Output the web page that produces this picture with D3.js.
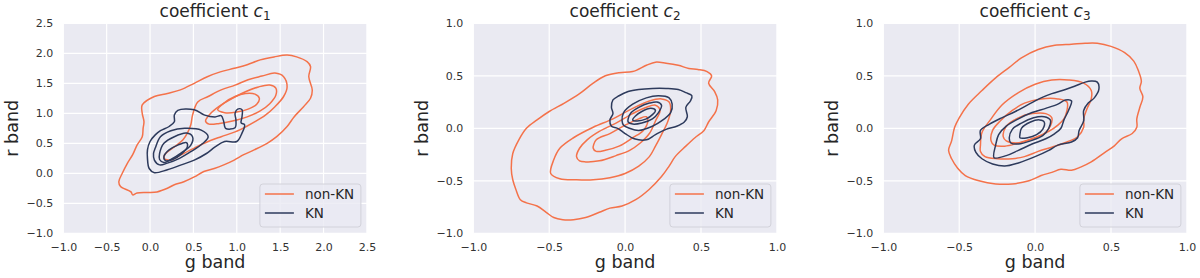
<!DOCTYPE html>
<html><head><meta charset="utf-8">
<script src="https://cdn.jsdelivr.net/npm/d3@7"></script>
<style>
body{margin:0;background:#fff}
svg{display:block}
text{font-family:"DejaVu Sans",sans-serif}
</style>
</head><body>
<svg id="chart" width="1200" height="278"></svg>
<script>
// ---------- data ----------
const subscripts = ["1", "2", "3"];
const seriesNames = ["non-KN", "KN"];
const ticksC1 = [-1, -0.5, 0, 0.5, 1, 1.5, 2, 2.5];
const ticksC23 = [-1, -0.5, 0, 0.5, 1];

// contour lines, [g band, r band] points, outer ring first
const c1NonKN = [
  [[-0.09,1.14],[0.05,1.28],[0.20,1.33],[0.35,1.39],[0.51,1.50],[0.66,1.61],[0.81,1.69],[0.97,1.75],[1.12,1.81],[1.27,1.89],[1.43,1.94],[1.58,1.97],[1.69,1.94],[1.81,1.86],[1.85,1.78],[1.83,1.61],[1.87,1.39],[1.85,1.25],[1.77,1.11],[1.66,0.94],[1.58,0.78],[1.46,0.61],[1.35,0.50],[1.20,0.39],[1.08,0.31],[0.97,0.22],[0.85,0.14],[0.74,0.08],[0.62,0.03],[0.51,-0.06],[0.39,-0.14],[0.28,-0.19],[0.20,-0.25],[0.08,-0.31],[-0.03,-0.32],[-0.15,-0.33],[-0.20,-0.36],[-0.22,-0.31],[-0.34,-0.22],[-0.36,-0.14],[-0.32,0.00],[-0.26,0.17],[-0.20,0.31],[-0.15,0.47],[-0.09,0.61],[-0.08,0.75],[-0.07,0.86],[-0.09,1.00]],
  [[0.49,0.97],[0.55,1.19],[0.67,1.28],[0.82,1.39],[0.98,1.47],[1.13,1.56],[1.29,1.62],[1.44,1.67],[1.54,1.61],[1.58,1.44],[1.54,1.28],[1.44,1.11],[1.33,0.97],[1.21,0.86],[1.11,0.78],[0.98,0.69],[0.82,0.61],[0.67,0.53],[0.51,0.42],[0.36,0.31],[0.24,0.22],[0.16,0.25],[0.18,0.33],[0.28,0.44],[0.38,0.56],[0.43,0.67],[0.47,0.81]],
  [[0.64,0.87],[0.70,1.00],[0.80,1.12],[0.95,1.25],[1.10,1.36],[1.25,1.44],[1.38,1.47],[1.45,1.42],[1.45,1.30],[1.38,1.16],[1.27,1.04],[1.12,0.94],[0.95,0.87],[0.80,0.83],[0.68,0.82]],
  [[0.78,1.06],[0.86,1.18],[0.98,1.28],[1.10,1.33],[1.21,1.32],[1.26,1.25],[1.23,1.15],[1.13,1.07],[1.00,1.02],[0.86,1.01]]
];
const c1KN = [
  [[0.28,0.97],[0.32,1.05],[0.51,1.06],[0.63,0.97],[0.75,0.94],[0.82,0.96],[0.85,0.86],[0.87,0.75],[0.98,0.76],[0.99,0.89],[0.98,1.00],[1.01,1.07],[1.06,1.06],[1.06,0.94],[1.05,0.84],[1.09,0.81],[1.06,0.67],[1.00,0.53],[0.86,0.53],[0.75,0.44],[0.65,0.33],[0.51,0.22],[0.36,0.14],[0.20,0.06],[0.05,0.01],[-0.01,0.08],[-0.03,0.25],[-0.03,0.39],[0.00,0.53],[0.06,0.64],[0.12,0.71],[0.22,0.78],[0.28,0.86]],
  [[0.06,0.42],[0.12,0.61],[0.24,0.71],[0.40,0.75],[0.59,0.72],[0.67,0.61],[0.61,0.50],[0.47,0.36],[0.34,0.25],[0.20,0.17],[0.11,0.14],[0.05,0.22],[0.04,0.33]],
  [[0.11,0.33],[0.16,0.50],[0.28,0.61],[0.42,0.67],[0.49,0.61],[0.47,0.47],[0.36,0.34],[0.24,0.23],[0.16,0.18],[0.11,0.23]],
  [[0.16,0.28],[0.22,0.39],[0.32,0.47],[0.42,0.51],[0.43,0.44],[0.36,0.32],[0.26,0.23],[0.18,0.21]]
];
const c2NonKN = [
  [[-0.65,0.00],[-0.58,0.08],[-0.50,0.16],[-0.40,0.24],[-0.30,0.33],[-0.21,0.43],[-0.13,0.50],[-0.04,0.53],[0.05,0.54],[0.14,0.60],[0.20,0.63],[0.27,0.62],[0.35,0.60],[0.42,0.57],[0.48,0.56],[0.54,0.54],[0.57,0.50],[0.55,0.43],[0.59,0.35],[0.61,0.27],[0.60,0.17],[0.55,0.06],[0.52,-0.02],[0.46,-0.09],[0.40,-0.17],[0.33,-0.27],[0.29,-0.36],[0.24,-0.46],[0.16,-0.58],[0.07,-0.68],[-0.02,-0.74],[-0.10,-0.76],[-0.17,-0.80],[-0.26,-0.85],[-0.34,-0.87],[-0.41,-0.87],[-0.47,-0.85],[-0.52,-0.80],[-0.58,-0.74],[-0.65,-0.71],[-0.69,-0.68],[-0.72,-0.58],[-0.74,-0.49],[-0.75,-0.38],[-0.74,-0.24],[-0.70,-0.11]],
  [[-0.49,-0.43],[-0.47,-0.30],[-0.43,-0.19],[-0.34,-0.09],[-0.21,0.01],[-0.08,0.09],[0.05,0.19],[0.16,0.26],[0.24,0.28],[0.29,0.25],[0.30,0.17],[0.28,0.06],[0.24,-0.06],[0.20,-0.17],[0.16,-0.27],[0.09,-0.36],[0.00,-0.43],[-0.10,-0.47],[-0.21,-0.49],[-0.32,-0.49],[-0.43,-0.48]],
  [[-0.32,-0.27],[-0.30,-0.19],[-0.25,-0.11],[-0.17,-0.03],[-0.06,0.05],[0.05,0.14],[0.14,0.20],[0.20,0.22],[0.23,0.17],[0.20,0.07],[0.16,-0.05],[0.10,-0.14],[0.03,-0.21],[-0.06,-0.26],[-0.17,-0.31],[-0.26,-0.32],[-0.30,-0.31]],
  [[-0.21,-0.19],[-0.19,-0.11],[-0.10,-0.05],[0.00,0.03],[0.09,0.09],[0.14,0.11],[0.15,0.07],[0.12,-0.02],[0.05,-0.09],[-0.04,-0.17],[-0.13,-0.21],[-0.19,-0.22]]
];
const c2KN = [
  [[-0.08,0.27],[-0.04,0.31],[0.02,0.35],[0.09,0.37],[0.18,0.38],[0.27,0.38],[0.35,0.37],[0.40,0.34],[0.44,0.31],[0.43,0.26],[0.40,0.20],[0.41,0.11],[0.39,0.06],[0.34,0.02],[0.27,-0.01],[0.20,-0.06],[0.14,-0.11],[0.06,-0.10],[0.00,-0.05],[-0.05,0.00],[-0.09,0.02],[-0.10,0.08],[-0.08,0.14],[-0.09,0.20]],
  [[-0.02,0.07],[-0.01,0.15],[0.05,0.23],[0.14,0.29],[0.22,0.31],[0.29,0.29],[0.31,0.23],[0.30,0.15],[0.24,0.07],[0.18,0.02],[0.09,-0.02],[0.03,0.00],[-0.01,0.03]],
  [[0.02,0.09],[0.04,0.15],[0.09,0.20],[0.16,0.24],[0.21,0.25],[0.24,0.22],[0.22,0.15],[0.18,0.09],[0.11,0.05],[0.05,0.04],[0.02,0.06]],
  [[0.05,0.08],[0.07,0.12],[0.11,0.16],[0.17,0.19],[0.20,0.17],[0.18,0.13],[0.14,0.09],[0.08,0.07]]
];
const c3NonKN = [
  [[-0.55,-0.12],[-0.53,0.01],[-0.50,0.10],[-0.44,0.23],[-0.35,0.36],[-0.26,0.48],[-0.17,0.58],[-0.09,0.67],[0.02,0.75],[0.13,0.79],[0.24,0.80],[0.33,0.81],[0.41,0.81],[0.50,0.78],[0.59,0.72],[0.65,0.64],[0.68,0.55],[0.70,0.45],[0.69,0.38],[0.71,0.30],[0.69,0.20],[0.67,0.09],[0.67,0.01],[0.64,-0.05],[0.57,-0.10],[0.52,-0.17],[0.46,-0.23],[0.37,-0.32],[0.30,-0.37],[0.24,-0.40],[0.17,-0.39],[0.11,-0.42],[0.04,-0.45],[-0.04,-0.50],[-0.15,-0.53],[-0.26,-0.53],[-0.37,-0.50],[-0.46,-0.45],[-0.51,-0.38],[-0.55,-0.29],[-0.57,-0.21]],
  [[-0.36,-0.16],[-0.35,-0.04],[-0.29,0.09],[-0.22,0.22],[-0.11,0.34],[0.00,0.42],[0.11,0.46],[0.22,0.46],[0.32,0.43],[0.37,0.36],[0.37,0.28],[0.34,0.18],[0.32,0.09],[0.32,0.01],[0.28,-0.08],[0.21,-0.13],[0.11,-0.18],[0.02,-0.22],[-0.07,-0.27],[-0.15,-0.29],[-0.25,-0.29],[-0.33,-0.27],[-0.36,-0.22]],
  [[-0.29,-0.12],[-0.28,-0.02],[-0.23,0.07],[-0.15,0.17],[-0.07,0.24],[0.04,0.28],[0.15,0.28],[0.21,0.25],[0.21,0.17],[0.19,0.09],[0.15,0.03],[0.09,-0.03],[0.00,-0.09],[-0.11,-0.14],[-0.20,-0.17],[-0.27,-0.16]],
  [[-0.21,-0.08],[-0.19,0.02],[-0.11,0.10],[-0.02,0.14],[0.07,0.14],[0.11,0.10],[0.10,0.02],[0.06,-0.05],[-0.02,-0.10],[-0.11,-0.14],[-0.19,-0.12]]
];
const c3KN = [
  [[0.37,0.45],[0.41,0.44],[0.42,0.37],[0.39,0.29],[0.35,0.24],[0.32,0.17],[0.32,0.07],[0.29,-0.02],[0.28,-0.09],[0.24,-0.13],[0.15,-0.16],[0.09,-0.21],[0.00,-0.27],[-0.11,-0.33],[-0.20,-0.36],[-0.28,-0.34],[-0.35,-0.29],[-0.39,-0.23],[-0.40,-0.16],[-0.36,-0.10],[-0.36,-0.02],[-0.30,0.04],[-0.22,0.10],[-0.13,0.16],[-0.04,0.23],[0.04,0.29],[0.11,0.33],[0.20,0.37],[0.26,0.40],[0.33,0.44]],
  [[-0.27,-0.28],[-0.26,-0.16],[-0.24,-0.06],[-0.19,0.02],[-0.11,0.09],[-0.02,0.15],[0.07,0.19],[0.15,0.23],[0.20,0.27],[0.24,0.26],[0.22,0.17],[0.19,0.08],[0.17,0.00],[0.13,-0.05],[0.07,-0.10],[-0.02,-0.15],[-0.11,-0.21],[-0.19,-0.26]],
  [[-0.17,-0.09],[-0.15,-0.01],[-0.09,0.05],[-0.01,0.10],[0.06,0.11],[0.10,0.08],[0.09,0.00],[0.05,-0.07],[-0.03,-0.12],[-0.11,-0.15],[-0.16,-0.14]],
  [[-0.10,-0.06],[-0.09,0.00],[-0.03,0.06],[0.03,0.08],[0.06,0.06],[0.05,-0.01],[0.01,-0.06],[-0.05,-0.09],[-0.10,-0.09]]
];

const nonKNSets = [c1NonKN, c2NonKN, c3NonKN];
const knSets = [c1KN, c2KN, c3KN];
const xTickSets = [ticksC1, ticksC23, ticksC23];
const yTickSets = [ticksC1, ticksC23, ticksC23];

// ---------- styling / layout ----------
const colNon = "#F4724A";
const colKN = "#2D3A5C";
const bg = "#EAEAF2";
const textCol = "#333333";
const panelX = [63.3, 473.3, 883.3];
const panelW = 303.6;
const plotTop = 23.3, plotBottom = 233.3;

const svg = d3.select("#chart");
const fmt = v => d3.format(".1f")(v).replace("-", "\u2212");

panelX.forEach((x0, i) => {
  const xt = xTickSets[i], yt = yTickSets[i];
  const x = d3.scaleLinear().domain([xt[0], xt[xt.length-1]]).range([x0, x0 + panelW]);
  const y = d3.scaleLinear().domain([yt[0], yt[yt.length-1]]).range([plotBottom, plotTop]);
  const g = svg.append("g");

  g.append("rect").attr("x", x0).attr("y", plotTop).attr("width", panelW).attr("height", plotBottom - plotTop).attr("fill", bg);

  // grid
  g.append("g").selectAll("line").data(xt).join("line")
    .attr("x1", d => x(d)).attr("x2", d => x(d)).attr("y1", plotTop).attr("y2", plotBottom)
    .attr("stroke", "#fff").attr("stroke-width", 1.2);
  g.append("g").selectAll("line").data(yt).join("line")
    .attr("y1", d => y(d)).attr("y2", d => y(d)).attr("x1", x0).attr("x2", x0 + panelW)
    .attr("stroke", "#fff").attr("stroke-width", 1.2);

  // axes (labels only)
  const ax = g.append("g").attr("transform", `translate(0,${plotBottom})`)
    .call(d3.axisBottom(x).tickValues(xt).tickFormat(fmt).tickSize(0).tickPadding(10));
  const ay = g.append("g").attr("transform", `translate(${x0},0)`)
    .call(d3.axisLeft(y).tickValues(yt).tickFormat(fmt).tickSize(0).tickPadding(10));
  [ax, ay].forEach(a => {
    a.select(".domain").remove();
    a.selectAll("text").attr("fill", textCol).style("font-size", "11px").style("font-family", "DejaVu Sans");
  });

  // contours
  const clipId = "clip" + i;
  svg.append("clipPath").attr("id", clipId).append("rect")
    .attr("x", x0).attr("y", plotTop).attr("width", panelW).attr("height", plotBottom - plotTop);
  const line = d3.line().x(d => x(d[0])).y(d => y(d[1])).curve(d3.curveCatmullRomClosed.alpha(0.5));
  const cg = g.append("g").attr("clip-path", `url(#${clipId})`);
  cg.selectAll("path.non").data(nonKNSets[i]).join("path").attr("class", "non")
    .attr("d", line).attr("fill", "none").attr("stroke", colNon).attr("stroke-width", 1.5);
  cg.selectAll("path.kn").data(knSets[i]).join("path").attr("class", "kn")
    .attr("d", line).attr("fill", "none").attr("stroke", colKN).attr("stroke-width", 1.5);

  // title
  const t = g.append("text").attr("x", x0 + panelW / 2).attr("y", 17).attr("text-anchor", "middle")
    .attr("fill", "#262626").style("font-size", "17px");
  t.append("tspan").text("coefficient ");
  t.append("tspan").style("font-style", "italic").text("c");
  t.append("tspan").attr("dy", 3).style("font-size", "12px").text(subscripts[i]);

  // axis titles
  g.append("text").attr("x", x0 + panelW / 2).attr("y", 268).attr("text-anchor", "middle")
    .attr("fill", "#262626").style("font-size", "17.5px").text("g band");
  g.append("text").attr("transform", `translate(${x0 - 45},${(plotTop + plotBottom) / 2}) rotate(-90)`)
    .attr("text-anchor", "middle").attr("fill", "#262626").style("font-size", "17.5px").text("r band");

  // legend
  const lx = x0 + panelW - 107, ly = 184;
  g.append("rect").attr("x", lx).attr("y", ly).attr("width", 101).attr("height", 43).attr("rx", 3)
    .attr("fill", bg).attr("fill-opacity", 0.8).attr("stroke", "#d2d2da").attr("stroke-width", 1);
  [colNon, colKN].forEach((c, k) => {
    const yy = ly + 10 + k * 19;
    g.append("line").attr("x1", lx + 5).attr("x2", lx + 34).attr("y1", yy).attr("y2", yy)
      .attr("stroke", c).attr("stroke-width", 1.5);
    g.append("text").attr("x", lx + 45).attr("y", yy + 5).attr("fill", "#262626")
      .style("font-size", "13.5px").text(seriesNames[k]);
  });
});
</script>
</body></html>
